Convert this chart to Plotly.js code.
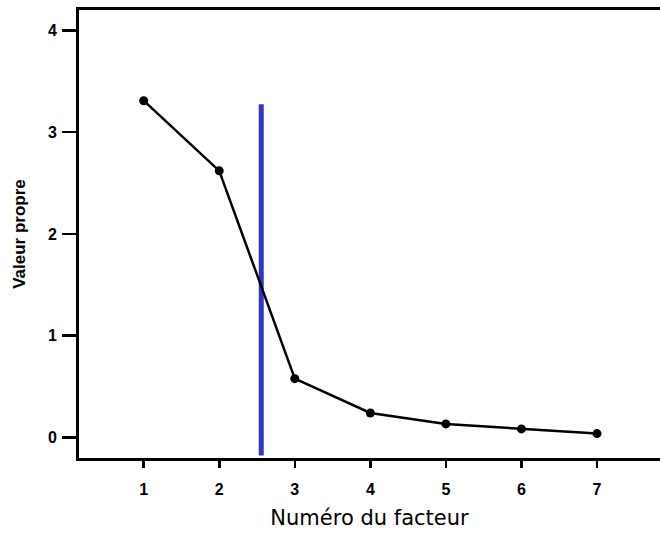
<!DOCTYPE html>
<html>
<head>
<meta charset="utf-8">
<script src="https://cdn.plot.ly/plotly-3.0.1.min.js"></script>
<style>html,body{margin:0;padding:0;background:#fff;}</style>
</head>
<body>
<div id="chart" style="width:660px;height:534px;"></div>
<script>
const factors = [1, 2, 3, 4, 5, 6, 7];
const eigenvalues = [3.31, 2.62, 0.576, 0.239, 0.131, 0.082, 0.036];
const cutX = [2.556, 2.556];
const cutY = [-0.18, 3.275];
const xTickVals = [1, 2, 3, 4, 5, 6, 7];
const yTickVals = [0, 1, 2, 3, 4];

const traces = [
  {
    x: cutX, y: cutY, mode: 'lines', type: 'scatter',
    line: {color: '#3333cc', width: 5},
    hoverinfo: 'skip', showlegend: false
  },
  {
    x: factors, y: eigenvalues, mode: 'lines+markers', type: 'scatter',
    line: {color: '#000000', width: 2.5},
    marker: {color: '#000000', size: 9},
    showlegend: false
  }
];

const layout = {
  width: 660, height: 534,
  margin: {l: 79, r: 0, t: 10, b: 76},
  paper_bgcolor: '#ffffff', plot_bgcolor: '#ffffff',
  showlegend: false,
  xaxis: {
    range: [0.1436, 7.834],
    tickvals: xTickVals,
    ticks: 'outside', ticklen: 7, tickwidth: 2.5, tickcolor: '#000',
    showline: true, linecolor: '#000', linewidth: 3, mirror: true,
    showgrid: false, zeroline: false,
    tickfont: {family: 'Liberation Sans, Arial, sans-serif', size: 16, color: '#000', weight: 'bold'},
    ticklabelstandoff: 8,
    title: {text: 'Numéro du facteur', font: {family: 'DejaVu Sans, Verdana, sans-serif', size: 21, color: '#000'}, standoff: 14}
  },
  yaxis: {
    range: [-0.204, 4.202],
    tickvals: yTickVals,
    ticks: 'outside', ticklen: 14, tickwidth: 2.5, tickcolor: '#000',
    showline: true, linecolor: '#000', linewidth: 3, mirror: false,
    showgrid: false, zeroline: false,
    tickfont: {family: 'Liberation Sans, Arial, sans-serif', size: 16, color: '#000', weight: 'bold'},
    ticklabelstandoff: 2,
    title: {text: 'Valeur propre', font: {family: 'Liberation Sans, Arial, sans-serif', size: 17, color: '#000', weight: 'bold'}, standoff: 18}
  }
};

Plotly.newPlot('chart', traces, layout, {displayModeBar: false, staticPlot: true});
</script>
</body>
</html>
